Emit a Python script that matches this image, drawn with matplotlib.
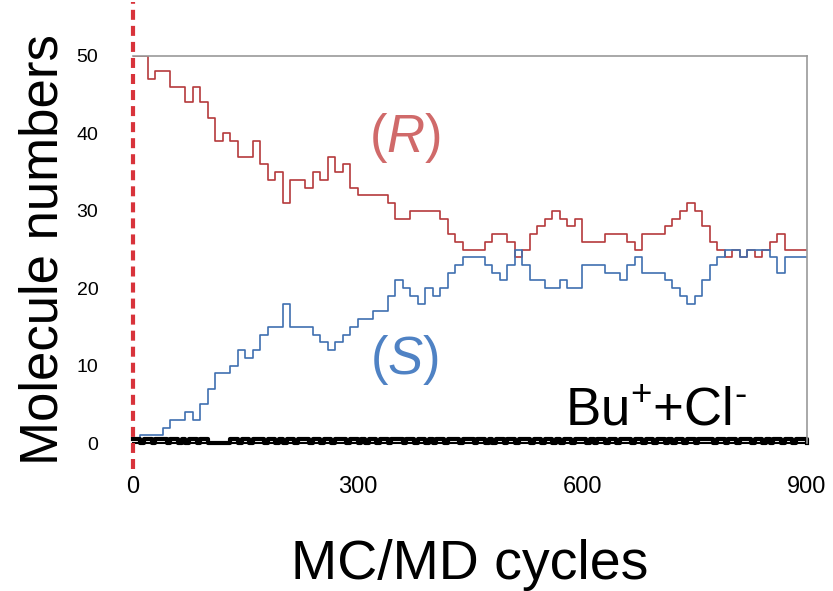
import numpy as np
import matplotlib
matplotlib.use("Agg")
import matplotlib.pyplot as plt

plt.rcParams['font.family'] = ['Liberation Sans', 'DejaVu Sans']
plt.rcParams['mathtext.fontset'] = 'custom'
plt.rcParams['mathtext.rm'] = 'Liberation Sans'
plt.rcParams['mathtext.it'] = 'Liberation Sans:italic'

# ---- data ----
cycles = list(range(0, 901, 10))
r_counts = [50, 50, 47, 48, 48, 46, 46, 44, 46, 44,
            42, 39, 40, 39, 37, 37, 39, 36, 34, 35,
            31, 34, 34, 33, 35, 34, 37, 35, 36, 33,
            32, 32, 32, 32, 31, 29, 29, 30, 30, 30,
            30, 29, 27, 26, 25, 25, 25, 26, 27, 27,
            26, 24, 25, 27, 28, 29, 30, 29, 28, 29,
            26, 26, 26, 27, 27, 27, 26, 25, 27, 27,
            27, 28, 29, 30, 31, 30, 28, 26, 25, 24,
            25, 24, 25, 24, 25, 26, 27, 25, 25, 25,
            25]
s_counts = [0, 1, 1, 1, 2, 3, 3, 4, 3, 5,
            7, 9, 9, 10, 12, 11, 12, 14, 15, 15,
            18, 15, 15, 15, 14, 13, 12, 13, 14, 15,
            16, 16, 17, 17, 19, 21, 20, 19, 18, 20,
            19, 20, 22, 23, 24, 24, 24, 23, 22, 21,
            23, 25, 23, 21, 21, 20, 20, 21, 20, 20,
            23, 23, 23, 22, 22, 21, 23, 24, 22, 22,
            22, 21, 20, 19, 18, 19, 21, 23, 24, 25,
            25, 24, 25, 25, 25, 24, 22, 24, 24, 24,
            24]
bu_pattern = ("1101101110110101101100000011011011101101011011101101101110110101"
              "1011011101101101011011101110110101101101110110110101101110101101"
              "10111011011011010110110111101101101110110101101101110110111")
bu_cycles = list(range(0, 901, 5))
bu_counts = [int(c) for c in bu_pattern[:len(bu_cycles)]]

x_ticks = [0, 300, 600, 900]
y_ticks = [0, 10, 20, 30, 40, 50]

# ---- figure ----
fig = plt.figure(figsize=(8.33, 5.91), dpi=100)
ax = fig.add_axes([133/833, (591-443)/591, (807-133)/833, (443-56)/591])

red = '#b53a3c'
blue = '#3f70b0'
ax.plot(cycles, r_counts, drawstyle='steps-post', color=red, lw=1.2)
ax.plot(cycles, s_counts, drawstyle='steps-post', color=blue, lw=1.2)
ax.plot(bu_cycles, [0.5 * v for v in bu_counts], drawstyle='steps-post',
        color='black', lw=3.0, clip_on=False)
ax.plot([0, 900], [0, 0], color='black', lw=1.5, clip_on=False)

ax.set_xlim(0, 900)
ax.set_ylim(0, 50)
ax.set_xticks(x_ticks)
ax.set_yticks(y_ticks)
ax.tick_params(axis='x', length=0, labelsize=17, pad=24)
ax.tick_params(axis='y', length=0, labelsize=14, pad=25)

for side in ['top', 'right']:
    ax.spines[side].set_color('#999999')
    ax.spines[side].set_linewidth(1.2)
ax.spines['left'].set_visible(False)
ax.spines['bottom'].set_visible(False)

# red dashed vertical line at x = 0
ax.plot([0, 0], [-3.4, 57], color='#d8333b', lw=3, ls=(0, (2.4, 1.45)),
        clip_on=False, zorder=5)

ax.set_ylabel('Molecule numbers', fontsize=38, labelpad=6)
ax.set_xlabel('MC/MD cycles', fontsize=40, labelpad=29)

ax.text(363, 39.4, '($\\mathit{R}$)', color='#d06a6a', fontsize=38,
        ha='center', va='center')
ax.text(363, 10.7, '($\\mathit{S}$)', color='#4f82c4', fontsize=38,
        ha='center', va='center')

ax.text(577, 2.3, 'Bu$^{+}$+Cl$^{\\text{-}}$', fontsize=38, ha='left',
        va='baseline')

fig.savefig('out.png', dpi=100)
